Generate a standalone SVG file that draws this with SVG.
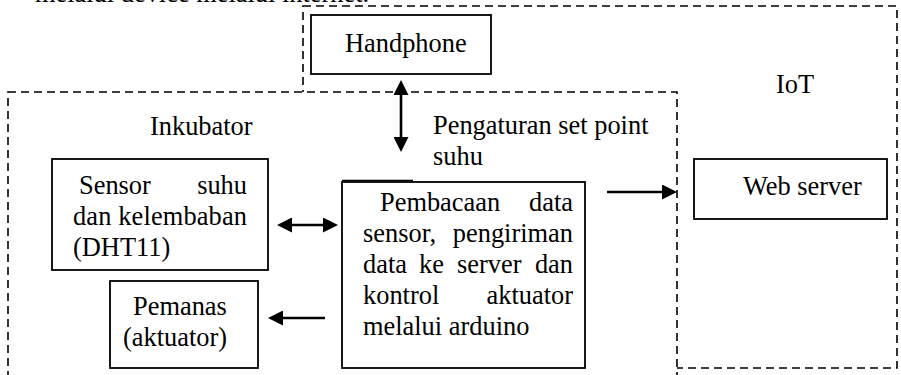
<svg xmlns="http://www.w3.org/2000/svg" width="901" height="375" viewBox="0 0 901 375">
<style>
.box{fill:#fff;stroke:#000;stroke-width:1.8}
.region{fill:#fff;stroke:#000;stroke-width:1.6;stroke-dasharray:8 5}
.conn{stroke:#000;stroke-width:2.6;fill:none}
</style>
<defs>
<marker id="ah" viewBox="0 0 15 15" refX="10" refY="7.5" markerWidth="15" markerHeight="15" markerUnits="userSpaceOnUse" orient="auto-start-reverse">
<path d="M0,0 L15,7.5 L0,15 z" fill="#000"/>
</marker>
</defs>
<rect width="901" height="375" fill="#fff"/>
<g font-family="'Liberation Serif', 'Times New Roman', 'DejaVu Serif', serif" font-size="26.4" fill="#000">
<text x="35" y="2">melalui device melalui internet.</text>
<g id="iot">
<rect class="region" x="303" y="6" width="594" height="362"/>
<text x="776" y="93">IoT</text>
</g>
<g id="inkubator">
<rect class="region" x="8" y="92" width="669" height="300"/>
<text x="150" y="135">Inkubator</text>
</g>
<g id="handphone">
<rect class="box" x="311" y="15" width="180" height="59"/>
<text x="345" y="52">Handphone</text>
</g>
<g id="sensor">
<rect class="box" x="52" y="159" width="216" height="111"/>
<text x="79" y="194">Sensor</text>
<text x="247" y="194" text-anchor="end">suhu</text>
<text x="73" y="225" textLength="174" lengthAdjust="spacing">dan kelembaban</text>
<text x="73" y="256">(DHT11)</text>
</g>
<g id="pemanas">
<rect class="box" x="110" y="281" width="148" height="87"/>
<text x="133" y="315">Pemanas</text>
<text x="123" y="346">(aktuator)</text>
</g>
<g id="pembacaan">
<rect class="box" x="342" y="182" width="243" height="186"/>
<line x1="342" y1="180.5" x2="413" y2="180.5" stroke="#000" stroke-width="1.6"/>
<text x="380" y="211">Pembacaan</text>
<text x="573" y="211" text-anchor="end">data</text>
<text x="363" y="242">sensor,</text>
<text x="573" y="242" text-anchor="end">pengiriman</text>
<text x="363" y="273">data</text>
<text x="419" y="273">ke</text>
<text x="457" y="273">server</text>
<text x="573" y="273" text-anchor="end">dan</text>
<text x="363" y="304">kontrol</text>
<text x="573" y="304" text-anchor="end">aktuator</text>
<text x="363" y="335">melalui arduino</text>
</g>
<g id="webserver">
<rect class="box" x="694" y="159" width="193" height="60"/>
<text x="743" y="195">Web server</text>
</g>
<g id="labels">
<text x="433" y="134">Pengaturan set point</text>
<text x="433" y="165">suhu</text>
</g>
</g>
<g id="connectors">
<line class="conn" x1="401" y1="85" x2="401" y2="147" marker-start="url(#ah)" marker-end="url(#ah)"/>
<line class="conn" x1="282" y1="225" x2="333" y2="225" marker-start="url(#ah)" marker-end="url(#ah)"/>
<line class="conn" x1="325" y1="318" x2="273" y2="318" marker-end="url(#ah)"/>
<line class="conn" x1="607" y1="192" x2="672" y2="192" marker-end="url(#ah)"/>
</g>
</svg>
